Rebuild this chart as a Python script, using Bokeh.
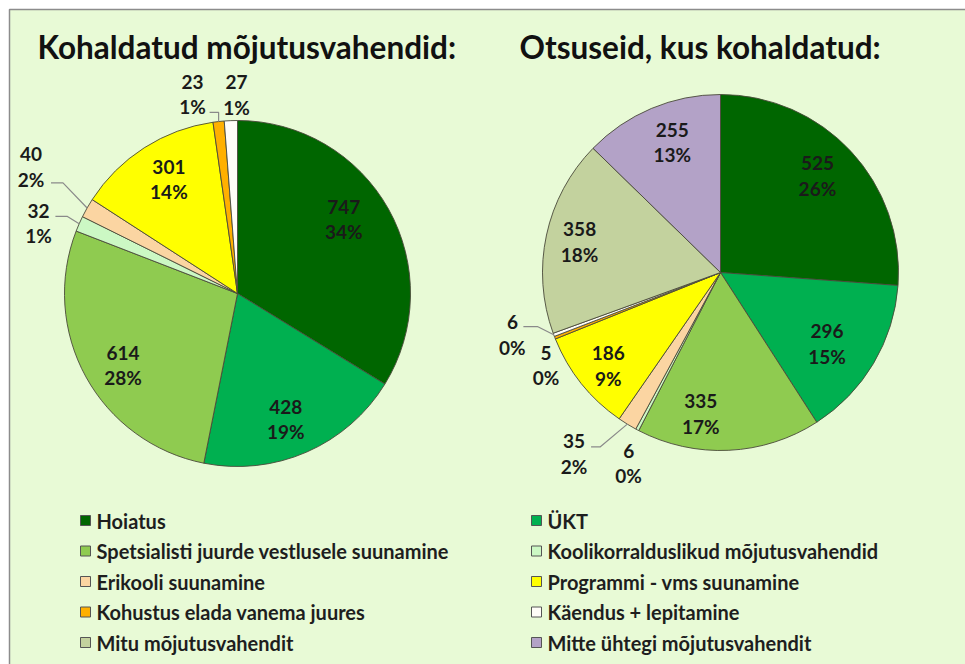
import math
from bokeh.plotting import figure
from bokeh.models import Range1d
from bokeh.core.properties import value
from bokeh.embed import file_html
from bokeh.resources import INLINE

# ---------------- data ----------------
categories = [
    "Hoiatus",
    "ÜKT",
    "Spetsialisti juurde vestlusele suunamine",
    "Koolikorralduslikud mõjutusvahendid",
    "Erikooli suunamine",
    "Programmi - vms suunamine",
    "Kohustus elada vanema juures",
    "Käendus + lepitamine",
    "Mitu mõjutusvahendit",
    "Mitte ühtegi mõjutusvahendit",
]
left_values = [747, 428, 614, 32, 40, 301, 23, 27]
right_values = [525, 296, 335, 6, 35, 186, 5, 6, 358, 255]
left_title = "Kohaldatud mõjutusvahendid:"
right_title = "Otsuseid, kus kohaldatud:"

# ---------------- style ----------------
colors = ["#006600", "#00B050", "#8FCB50", "#CCF8C4", "#FBD5A2",
          "#FFFF00", "#FFB000", "#FFFDF8", "#C3D29E", "#B3A2C7"]
W, H = 965, 664
BG = "#E8FAD6"
FONT = value("Lato")
TXT = "#1A1A1A"

# label placement (clockwise degrees from 12 o'clock, radius factor)
left_label_pos = [(55, 0.75), (159, 0.78), (238, 0.78), (289.4, 1.22), (301.5, 1.40),
                  (329, 0.77), (347.3, 1.18), (359.7, 1.15)]
right_label_pos = [(45, 0.77), (123.8, 0.72), (188, 0.80), (205.7, 1.19), (218.9, 1.31),
                   (230.3, 0.82), (242, 1.11), (253.4, 1.22), (282.3, 0.81), (339.7, 0.78)]
# leader lines: index -> (start offset from label centre (dx, dy image px), horizontal run)
left_leaders = {3: (17, -7, 12), 4: (20, 16, 12), 6: (17, 18, 9)}
right_leaders = {4: (17, -7, 9), 7: (11, -8, 14)}

p = figure(width=W, height=H, output_backend="svg", toolbar_location=None,
           x_range=Range1d(0, W), y_range=Range1d(0, H),
           x_axis_type=None, y_axis_type=None, min_border=0,
           background_fill_color="white", border_fill_color="white")
p.grid.visible = False
p.outline_line_color = None


def Y(y_img):
    return H - y_img


# panel
p.quad(left=[9], right=[W + 5], top=[Y(9)], bottom=[Y(H + 5)],
       fill_color=BG, line_color="#8C8C8C", line_width=1.5)


def draw_pie(values, cx, cy, r, label_pos, leaders):
    total = sum(values)
    acc = 0.0
    starts, ends, fills = [], [], []
    mids = []
    for i, v in enumerate(values):
        a1 = acc / total * 360.0
        acc += v
        a2 = acc / total * 360.0
        starts.append(math.radians(90 - a2))
        ends.append(math.radians(90 - a1))
        fills.append(colors[i])
        mids.append((a1 + a2) / 2)
    n = len(values)
    p.wedge(x=[cx] * n, y=[Y(cy)] * n, radius=r, start_angle=starts, end_angle=ends,
            fill_color=fills, line_color="#4A4A3A", line_width=0.9)
    lx, ly, t1, t2 = [], [], [], []
    for i, v in enumerate(values):
        ang, rf = label_pos[i]
        x = cx + rf * r * math.sin(math.radians(ang))
        y = cy - rf * r * math.cos(math.radians(ang))
        lx.append(x)
        ly.append(y)
        t1.append(str(v))
        t2.append(f"{round(v / total * 100)}%")
        if i in leaders:
            dx, dy, run = leaders[i]
            sx, sy = x + dx, y + dy
            ex = cx + r * math.sin(math.radians(mids[i]))
            ey = cy - r * math.cos(math.radians(mids[i]))
            p.line([sx, sx + run, ex], [Y(sy), Y(sy), Y(ey)],
                   line_color="#8A8A8A", line_width=1.2)
    p.text(x=lx, y=[Y(v - 12.5) for v in ly], text=t1, text_font=FONT,
           text_font_size="19px", text_font_style="bold", text_color=TXT,
           text_align="center", text_baseline="middle")
    p.text(x=lx, y=[Y(v + 12.5) for v in ly], text=t2, text_font=FONT,
           text_font_size="19px", text_font_style="bold", text_color=TXT,
           text_align="center", text_baseline="middle")


draw_pie(left_values, 237, 293, 173, left_label_pos, left_leaders)
draw_pie(right_values, 720, 272, 178, right_label_pos, right_leaders)

# titles
p.text(x=[37, 519], y=[Y(46), Y(46)], text=[left_title, right_title], text_font=FONT,
       text_font_size="31.5px", text_font_style="bold", text_color="#111111",
       text_align="left", text_baseline="middle")

# legend (two columns, row-major)
leg_x = [85 if i % 2 == 0 else 536 for i in range(len(categories))]
leg_y = [520 + 30.5 * (i // 2) for i in range(len(categories))]
p.rect(x=leg_x, y=[Y(v) for v in leg_y], width=10, height=10,
       fill_color=colors, line_color="#555555", line_width=1)
p.text(x=[v + 11 for v in leg_x], y=[Y(v) for v in leg_y], text=categories, text_font=FONT,
       text_font_size="20px", text_font_style="bold", text_color="#1E1E1E",
       text_align="left", text_baseline="middle")

open("out.html", "w").write(file_html(p, INLINE))
